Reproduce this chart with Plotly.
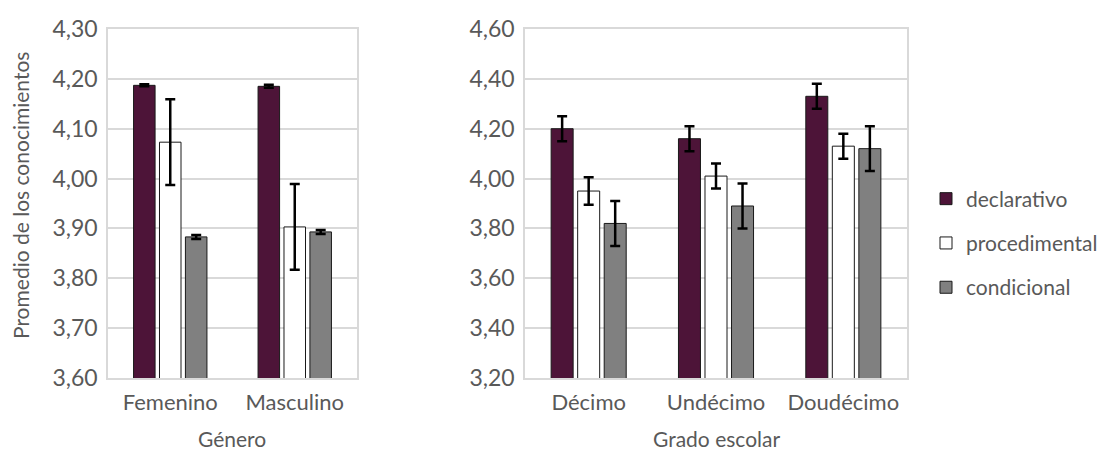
import plotly.graph_objects as go

# Knowledge averages by gender
generos = ["Femenino", "Masculino"]
gen_declarativo = [4.187, 4.185]
gen_procedimental = [4.073, 3.903]
gen_condicional = [3.883, 3.893]
gen_err_declarativo = [0.002, 0.003]
gen_err_procedimental = [0.086, 0.086]
gen_err_condicional = [0.004, 0.004]

# Knowledge averages by school grade
grados = ["Décimo", "Undécimo", "Doudécimo"]
gr_declarativo = [4.20, 4.16, 4.33]
gr_procedimental = [3.95, 4.01, 4.13]
gr_condicional = [3.82, 3.89, 4.12]
gr_err_declarativo = [0.05, 0.05, 0.05]
gr_err_procedimental = [0.055, 0.05, 0.05]
gr_err_condicional = [0.09, 0.09, 0.09]

series_names = ["declarativo", "procedimental", "condicional"]
colors = ["#4d1438", "#ffffff", "#808080"]

FONT = "Lato"
TXT = "#595959"
GRID = "#d9d9d9"

fig = go.Figure()

left = [
    (gen_declarativo, gen_err_declarativo),
    (gen_procedimental, gen_err_procedimental),
    (gen_condicional, gen_err_condicional),
]
right = [
    (gr_declarativo, gr_err_declarativo),
    (gr_procedimental, gr_err_procedimental),
    (gr_condicional, gr_err_condicional),
]

for i, (name, color) in enumerate(zip(series_names, colors)):
    vals, errs = left[i]
    fig.add_trace(go.Bar(
        x=generos, y=vals, name=name, legendgroup=name,
        marker=dict(color=color, line=dict(color="#1a1a1a", width=1)),
        error_y=dict(type="data", array=errs, color="black", thickness=2.5, width=5),
        xaxis="x", yaxis="y",
    ))
for i, (name, color) in enumerate(zip(series_names, colors)):
    vals, errs = right[i]
    fig.add_trace(go.Bar(
        x=grados, y=vals, name=name, legendgroup=name, showlegend=False,
        marker=dict(color=color, line=dict(color="#1a1a1a", width=1)),
        error_y=dict(type="data", array=errs, color="black", thickness=2.5, width=5),
        xaxis="x2", yaxis="y2",
    ))

W, H = 1120, 453
y_dom = [(H - 378) / H, (H - 29) / H]

axis_common = dict(
    showline=True, linecolor=GRID, linewidth=1.5, mirror=True,
    ticks="", zeroline=False, automargin=False,
)
xtick = dict(family=FONT, size=22, color=TXT)
ytick = dict(family=FONT, size=23, color=TXT)

# Axis titles placed in paper coordinates
titles = [
    dict(text="Promedio de los conocimientos", x=20 / W, y=1 - 196 / H,
         textangle=-90, font=dict(family=FONT, size=21, color=TXT)),
    dict(text="Género", x=232 / W, y=1 - 438 / H, textangle=0,
         font=dict(family=FONT, size=21, color=TXT)),
    dict(text="Grado escolar", x=716 / W, y=1 - 438 / H, textangle=0,
         font=dict(family=FONT, size=21, color=TXT)),
]
annotations = [
    dict(xref="paper", yref="paper", xanchor="center", yanchor="middle",
         showarrow=False, **t) for t in titles
]

fig.update_layout(
    width=W, height=H,
    margin=dict(l=0, r=0, t=0, b=0),
    paper_bgcolor="white", plot_bgcolor="white",
    separators=",.",
    barmode="group", bargap=0.375, bargroupgap=0.17,
    font=dict(family=FONT, color=TXT),
    xaxis=dict(domain=[108 / W, 357 / W], anchor="y", tickfont=xtick, ticklabelstandoff=4,
               **axis_common),
    yaxis=dict(domain=y_dom, anchor="x", range=[3.6, 4.3], dtick=0.1, tickformat=".2f",
               showgrid=True, gridcolor=GRID, gridwidth=1.5, tickfont=ytick, ticklabelstandoff=4,
               **axis_common),
    xaxis2=dict(domain=[525 / W, 907 / W], anchor="y2", tickfont=xtick, ticklabelstandoff=4,
                **axis_common),
    yaxis2=dict(domain=y_dom, anchor="x2", range=[3.2, 4.6], dtick=0.2, tickformat=".2f",
                showgrid=True, gridcolor=GRID, gridwidth=1.5, tickfont=ytick, ticklabelstandoff=4,
                **axis_common),
    legend=dict(x=926 / W, xanchor="left", y=1 - 243 / H, yanchor="middle",
                font=dict(family=FONT, size=21, color=TXT),
                tracegroupgap=14, itemwidth=30, bgcolor="rgba(0,0,0,0)"),
    annotations=annotations,
)

fig.write_html("out.html")
